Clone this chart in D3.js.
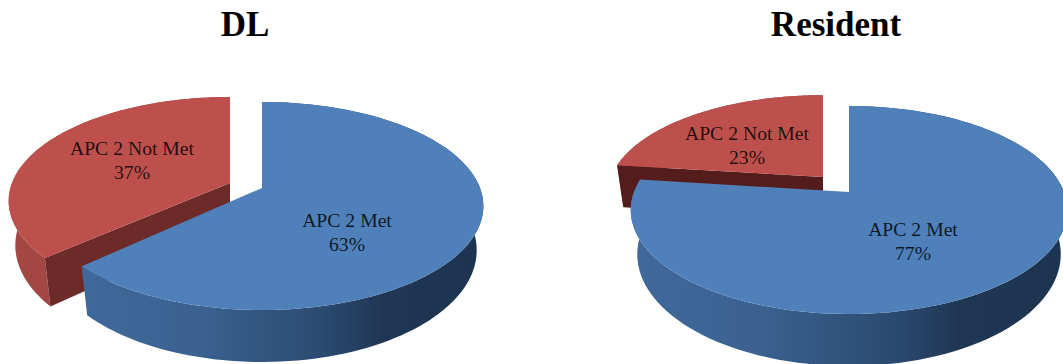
<!DOCTYPE html>
<html>
<head>
<meta charset="utf-8">
<script src="https://cdnjs.cloudflare.com/ajax/libs/d3/7.8.5/d3.min.js"></script>
<style>
html, body { margin: 0; padding: 0; background: #fff; overflow: hidden; }
text { font-family: "Liberation Serif", "Times New Roman", serif; }
</style>
</head>
<body>
<svg id="chart" width="1063" height="364"></svg>
<script>
const categories = ["APC 2 Met", "APC 2 Not Met"];
const chartTitles = ["DL", "Resident"];
const dlValues = [63, 37];
const residentValues = [77, 23];

// Placement of each pie: apex of every exploded slice, label anchor, wall height.
const layouts = [
  {
    titleX: 245, depth: 43, cutFill: "#6c2b29",
    slices: [
      { ax: 262, ay: 188, rx: 218, ry: 100.9, trim: 0, lx: 347, ly: 227 },
      { ax: 230, ay: 183, rx: 218, ry: 100.9, trim: 0.035, lx: 132, ly: 155 }
    ]
  },
  {
    titleX: 836, depth: 43, cutFill: "#541d1b",
    slices: [
      { ax: 849, ay: 192, rx: 215, ry: 100.9, trim: 0, lx: 913, ly: 236 },
      { ax: 823, ay: 177, rx: 212, ry: 96, trim: 0, lx: 747, ly: 140 }
    ]
  }
];

const sliceFill = ["#4f80ba", "#bd504d"];
const persp = 0.173;
const floorShrink = 0.97;

const svg = d3.select("#chart");
const defs = svg.append("defs");

function wallGradient(id, stops) {
  const g = defs.append("linearGradient").attr("id", id)
    .attr("x1", "0").attr("x2", "1").attr("y1", "0").attr("y2", "0");
  stops.forEach(([o, c]) => g.append("stop").attr("offset", o).attr("stop-color", c));
}
wallGradient("wall0", [[0, "#40699b"], [0.3, "#3a6190"], [0.6, "#2b4a70"], [0.75, "#203754"], [1, "#1d3451"]]);
wallGradient("wall1", [[0, "#a54845"], [1, "#94403d"]]);

// Tilted-disc projection: the near side of the pie is drawn larger than the far side,
// and the underside narrows slightly as it recedes from the viewer.
function project(s, angle, radius, drop) {
  const u = Math.sin(angle) * radius * (drop > 0 ? floorShrink : 1);
  const v = -Math.cos(angle) * radius;
  const w = 1 - persp * v;
  return [s.ax + s.rx * u / w, s.ay + (s.ry * v + drop) / w];
}

const line = d3.line();
const pie = d3.pie().sort(null).startAngle(0).endAngle(2 * Math.PI);

function rim(s, a0, a1, drop) {
  return d3.range(0, 121).map(i => project(s, a0 + (a1 - a0) * i / 120, 1, drop));
}

[dlValues, residentValues].forEach((values, k) => {
  const cfg = layouts[k];
  const g = svg.append("g");
  const arcs = pie(values);

  g.append("text")
    .attr("x", cfg.titleX).attr("y", 36)
    .attr("text-anchor", "middle")
    .attr("font-size", 35).attr("font-weight", "bold").attr("fill", "#000")
    .text(chartTitles[k]);

  // Paint back slice first so the nearer one overlaps it.
  [1, 0].forEach(i => {
    const s = cfg.slices[i];
    const a = arcs[i];
    const start = a.startAngle + s.trim;
    const top = rim(s, start, a.endAngle, 0);
    const bottom = rim(s, start, a.endAngle, cfg.depth);
    const apexTop = project(s, 0, 0, 0);
    const apexBottom = project(s, 0, 0, cfg.depth);

    g.append("path")
      .attr("d", line(top.concat(bottom.slice().reverse())) + "Z")
      .attr("fill", `url(#wall${i})`);

    // Only the back slice shows its cut face; the large slice hides its own.
    if (i === 1) {
      g.append("path")
        .attr("d", line([apexTop, project(s, start, 1, 0), project(s, start, 1, cfg.depth), apexBottom]) + "Z")
        .attr("fill", cfg.cutFill);
    }

    g.append("path")
      .attr("d", line([apexTop].concat(top)) + "Z")
      .attr("fill", sliceFill[i]);
  });

  arcs.forEach((a, i) => {
    const s = cfg.slices[i];
    const label = g.append("text")
      .attr("text-anchor", "middle")
      .attr("font-size", 19.7)
      .attr("fill", "#000").attr("fill-opacity", 0.82);
    label.append("tspan").attr("x", s.lx).attr("y", s.ly).text(categories[i]);
    label.append("tspan").attr("x", s.lx).attr("y", s.ly + 23.5).text(a.value + "%");
  });
});
</script>
</body>
</html>
